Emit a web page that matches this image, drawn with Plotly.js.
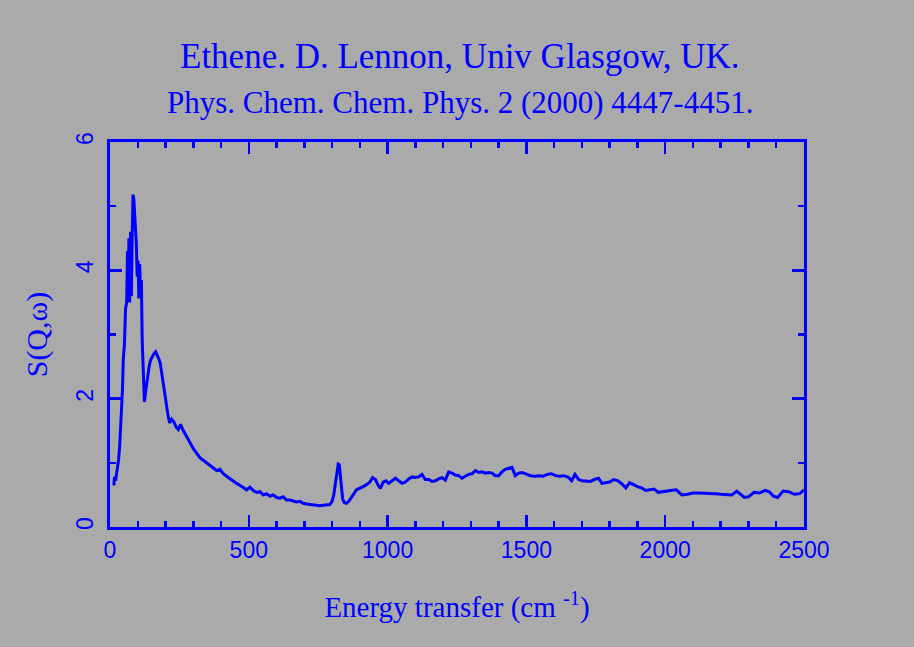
<!DOCTYPE html>
<html>
<head>
<meta charset="utf-8">
<script src="https://cdn.plot.ly/plotly-3.0.1.min.js"></script>
<style>
  html, body { margin: 0; padding: 0; background: #aaaaaa; }
  #chart { width: 914px; height: 647px; }
</style>
</head>
<body>
<div id="chart"></div>
<script>
// Energy transfer (cm^-1)
const energy = [
  14,16,20,24,28,31,35,38,42,45,
  48,52,56,60,63,66,68,71,74,77,
  80,83,86,89,92,95,98,101,104,107,
  110,113,116,120,124,128,132,136,141,146,
  152,158,164,170,176,181,186,191,197,203,
  209,215,222,230,238,246,254,262,270,280,
  290,300,312,324,336,348,360,372,384,396,
  408,420,432,444,456,468,480,492,504,516,
  528,540,552,564,576,588,600,612,624,636,
  648,660,672,684,696,708,720,732,744,756,
  768,780,792,800,806,812,818,822,826,830,
  834,838,844,852,860,868,876,888,900,912,
  924,936,946,956,966,974,984,994,1004,1016,
  1028,1040,1052,1064,1076,1088,1100,1112,1124,1136,
  1148,1160,1172,1184,1196,1208,1220,1232,1244,1256,
  1268,1280,1292,1304,1316,1328,1340,1352,1364,1376,
  1388,1400,1412,1424,1436,1448,1460,1472,1484,1500,
  1515,1530,1545,1560,1575,1590,1605,1620,1635,1650,
  1663,1675,1688,1700,1715,1730,1745,1760,1772,1785,
  1800,1815,1830,1845,1858,1872,1885,1900,1915,1930,
  1945,1960,1975,1990,2005,2020,2040,2060,2080,2100,
  2120,2140,2160,2180,2200,2220,2240,2258,2272,2285,
  2300,2320,2340,2360,2375,2390,2405,2425,2445,2465,
  2485,2500
];
// S(Q,w)
const sqw = [
  0.65,0.78,0.72,0.85,0.92,1.05,1.27,1.48,1.85,2.15,
  2.62,2.85,3.4,3.5,4.3,3.55,4.5,3.5,4.6,3.6,
  4.55,5.18,5.1,4.9,4.75,4.4,3.9,4.15,3.56,4.1,
  3.6,3.85,2.9,2.4,1.95,2.1,2.25,2.38,2.5,2.6,
  2.66,2.7,2.73,2.68,2.62,2.55,2.4,2.25,2.1,1.95,
  1.74,1.62,1.68,1.64,1.56,1.52,1.6,1.52,1.45,1.38,
  1.3,1.22,1.15,1.08,1.04,1.0,0.96,0.92,0.88,0.9,
  0.83,0.79,0.75,0.71,0.68,0.65,0.62,0.58,0.62,0.57,
  0.54,0.55,0.5,0.52,0.48,0.5,0.46,0.45,0.47,0.42,
  0.42,0.4,0.39,0.4,0.37,0.36,0.35,0.34,0.33,0.33,
  0.34,0.34,0.35,0.4,0.5,0.68,0.88,0.98,0.97,0.8,
  0.58,0.44,0.38,0.37,0.4,0.46,0.5,0.58,0.6,0.63,
  0.66,0.7,0.77,0.74,0.65,0.6,0.7,0.72,0.68,0.72,
  0.76,0.72,0.68,0.7,0.75,0.78,0.77,0.78,0.82,0.74,
  0.74,0.71,0.72,0.75,0.77,0.73,0.86,0.84,0.81,0.8,
  0.76,0.79,0.82,0.83,0.88,0.85,0.86,0.84,0.85,0.84,
  0.8,0.8,0.86,0.9,0.91,0.93,0.8,0.84,0.85,0.82,
  0.8,0.79,0.8,0.79,0.82,0.83,0.8,0.79,0.8,0.78,
  0.72,0.82,0.74,0.72,0.71,0.71,0.74,0.76,0.68,0.69,
  0.7,0.74,0.72,0.67,0.61,0.69,0.66,0.63,0.61,0.57,
  0.58,0.59,0.54,0.55,0.57,0.57,0.58,0.5,0.51,0.53,
  0.53,0.53,0.52,0.52,0.51,0.51,0.5,0.56,0.5,0.46,
  0.47,0.54,0.53,0.57,0.55,0.48,0.46,0.56,0.55,0.51,
  0.52,0.58
];
const xTickVals = [0, 500, 1000, 1500, 2000, 2500];
const yTickVals = [0, 2, 4, 6];
const titleLine1 = 'Ethene. D. Lennon, Univ Glasgow, UK.';
const titleLine2 = 'Phys. Chem. Chem. Phys. 2 (2000) 4447-4451.';

const BLUE = '#0000ff';
const BG = '#aaaaaa';

const trace = {
  x: energy,
  y: sqw,
  type: 'scatter',
  mode: 'lines',
  line: { color: BLUE, width: 3 },
  hoverinfo: 'skip'
};

const layout = {
  width: 914,
  height: 647,
  margin: { l: 110, r: 110, t: 142, b: 120, pad: 0 },
  paper_bgcolor: BG,
  plot_bgcolor: BG,
  showlegend: false,
  xaxis: {
    range: [0, 2500],
    tickvals: xTickVals,
    ticktext: xTickVals.map(String),
    showgrid: false,
    zeroline: false,
    showline: true,
    linecolor: BLUE,
    linewidth: 3,
    mirror: 'ticks',
    ticks: 'inside',
    ticklen: 12,
    tickwidth: 2.5,
    tickcolor: BLUE,
    minor: { dtick: 100, tick0: 0, ticks: 'inside', ticklen: 6, tickwidth: 2.5, tickcolor: BLUE, showgrid: false },
    tickfont: { family: 'Liberation Sans, Arial, sans-serif', size: 23, color: BLUE },
    title: {
      text: 'Energy transfer (cm <sup>-1</sup>)',
      font: { family: 'Liberation Serif, Times New Roman, serif', size: 29, color: BLUE },
      standoff: 36
    }
  },
  yaxis: {
    range: [0, 6],
    tickvals: yTickVals,
    ticktext: yTickVals.map(String),
    showgrid: false,
    zeroline: false,
    showline: true,
    linecolor: BLUE,
    linewidth: 3,
    mirror: 'ticks',
    ticks: 'inside',
    ticklen: 12,
    tickwidth: 2.5,
    tickcolor: BLUE,
    tickangle: -90,
    ticklabelstandoff: 5,
    minor: { dtick: 1, tick0: 0, ticks: 'inside', ticklen: 6, tickwidth: 2.5, tickcolor: BLUE, showgrid: false },
    tickfont: { family: 'Liberation Sans, Arial, sans-serif', size: 23, color: BLUE },
    title: {
      text: 'S(Q,ω)',
      font: { family: 'Liberation Serif, Times New Roman, serif', size: 30, color: BLUE },
      standoff: 16
    }
  },
  annotations: [
    {
      text: titleLine1, xref: 'paper', yref: 'paper', x: 0.505, y: 1.221,
      xanchor: 'center', yanchor: 'middle', showarrow: false,
      font: { family: 'Liberation Serif, Times New Roman, serif', size: 35, color: BLUE }
    },
    {
      text: titleLine2, xref: 'paper', yref: 'paper', x: 0.505, y: 1.103,
      xanchor: 'center', yanchor: 'middle', showarrow: false,
      font: { family: 'Liberation Serif, Times New Roman, serif', size: 31, color: BLUE }
    }
  ]
};

Plotly.newPlot('chart', [trace], layout, { displayModeBar: false, staticPlot: true });
</script>
</body>
</html>
